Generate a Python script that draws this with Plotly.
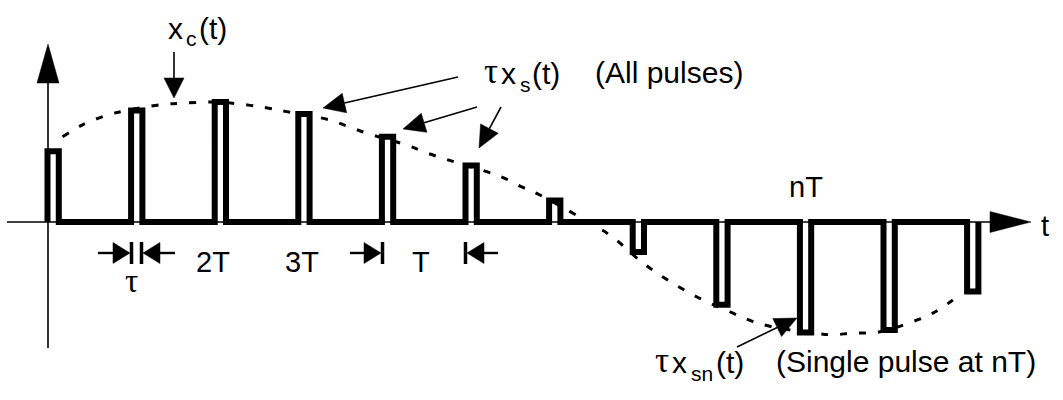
import math
import plotly.graph_objects as go

# ---------------- data ----------------
T = 1.0                     # sampling period
tau = 0.135                 # pulse width (in units of T)
pulse_n = [0, 1, 2, 3, 4, 5, 6, 7, 8, 9, 10, 11]
pulse_heights = [0.59, 0.93, 1.00, 0.90, 0.71, 0.47, 0.18, -0.25, -0.69, -0.92, -0.90, -0.58]

# continuous signal x_c(t)
curve_t = [0.18, 0.42, 0.71, 0.95, 1.38, 1.62, 2.0, 2.39, 2.63, 2.86, 3.38, 3.58, 3.82, 4.30,
           4.54, 4.78, 5.21, 5.45, 5.68, 5.89, 6.37, 6.57, 6.76, 7.12, 7.41, 7.77, 8.20,
           8.44, 8.68, 9.16, 9.40, 9.63, 9.92, 10.35, 10.59, 10.83]
curve_y = [0.71, 0.81, 0.89, 0.93, 0.98, 0.99, 1.0, 0.975, 0.95, 0.92, 0.85, 0.80, 0.74, 0.64,
           0.575, 0.52, 0.43, 0.37, 0.29, 0.225, 0.04, -0.04, -0.125, -0.34, -0.48, -0.625, -0.76,
           -0.83, -0.875, -0.925, -0.94, -0.925, -0.92, -0.83, -0.76, -0.65]

tick_labels = ["2T", "3T", "T", "nT"]

# ---------------- layout geometry (pixels of a 1063x400 canvas) ----------------
W, H = 1063, 400
X0, PXT = 47.5, 83.6        # pixel of t=0, pixels per T
Y0, PXA = 222.0, 120.0      # pixel of baseline, pixels per unit amplitude

x_range = [(0 - X0) / PXT, (W - X0) / PXT]
y_range = [(Y0 - H) / PXA, Y0 / PXA]

def fx(x):
    return x / W

def fy(y):
    return 1 - y / H

INK = "#000000"
FONT = "Liberation Sans, Arial, sans-serif"
SERIF = "Liberation Serif, serif"

# ---------------- pulse train path ----------------
px, py = [], []
for n, h in zip(pulse_n, pulse_heights):
    t = n * T
    px += [t, t, t + tau, t + tau]
    py += [0, h, h, 0]

fig = go.Figure()

fig.add_trace(go.Scatter(
    x=curve_t, y=curve_y, mode="lines",
    line=dict(color=INK, width=3, dash="7px,12px", shape="spline", smoothing=1.0),
    hoverinfo="skip", showlegend=False,
))

fig.add_trace(go.Scatter(
    x=px, y=py, mode="lines",
    line=dict(color=INK, width=6),
    hoverinfo="skip", showlegend=False,
))

shapes = []

def line(x1, y1, x2, y2, w=1.6):
    shapes.append(dict(type="line", xref="paper", yref="paper",
                       x0=fx(x1), y0=fy(y1), x1=fx(x2), y1=fy(y2),
                       line=dict(color=INK, width=w), layer="below"))

def tri(pts):
    d = "M " + " L ".join(f"{fx(a):.5f},{fy(b):.5f}" for a, b in pts) + " Z"
    shapes.append(dict(type="path", xref="paper", yref="paper", path=d,
                       fillcolor=INK, line=dict(color=INK, width=0.5)))

def arrow(tail, tip, hl=20, hw=20, w=1.6):
    dx, dy = tip[0] - tail[0], tip[1] - tail[1]
    L = math.hypot(dx, dy)
    ux, uy = dx / L, dy / L
    bx, by = tip[0] - ux * hl, tip[1] - uy * hl
    nx, ny = -uy, ux
    line(tail[0], tail[1], bx, by, w)
    tri([tip, (bx + nx * hw / 2, by + ny * hw / 2), (bx - nx * hw / 2, by - ny * hw / 2)])

# axes
line(7, Y0, 995, Y0, 1.6)
tri([(1031, Y0), (990, Y0 - 10.5), (990, Y0 + 10.5)])
line(48, 348, 48, 80, 1.6)
tri([(48, 44), (37, 83), (59, 83)])

# labelling arrows
arrow((174, 52), (174, 98), hl=20, hw=20)
arrow((458, 77), (323, 108), hl=22, hw=20)
arrow((477, 107), (403, 129), hl=22, hw=20)
arrow((501, 107), (479, 148), hl=22, hw=20)
arrow((737, 347), (797, 318), hl=22, hw=20)

# dimension markers (tau and T)
def dim_right(x_bar, tail_x, y=253):
    line(tail_x, y, x_bar - 15, y, 2.4)
    tri([(x_bar, y), (x_bar - 17, y - 10.5), (x_bar - 17, y + 10.5)])
    line(x_bar + 1.5, y - 11, x_bar + 1.5, y + 11, 3.5)

def dim_left(x_bar, tail_x, y=253):
    line(x_bar + 15, y, tail_x, y, 2.4)
    tri([(x_bar, y), (x_bar + 17, y - 10.5), (x_bar + 17, y + 10.5)])
    line(x_bar - 1.5, y - 11, x_bar - 1.5, y + 11, 3.5)

dim_right(130, 98)
dim_left(143, 175)
dim_right(381, 350)
dim_left(467, 498)

annotations = []

def text(s, x, baseline, anchor="center", size=30, family=FONT):
    # place a single-line text by its baseline (pixels from top)
    y = baseline - 0.3465 * size
    if anchor == "left":
        x -= 2
    annotations.append(dict(text=s, x=fx(x), y=fy(y), xref="paper", yref="paper",
                            xanchor=anchor, yanchor="middle", showarrow=False,
                            font=dict(family=family, size=size, color=INK)))

SUB = 21
TAUSZ = 35

# x_c(t)
text("x", 168, 39, "left")
text("c", 186, 46, "left", size=SUB)
text("(t)", 199, 39, "left")

# tau x_s(t)
text("τ", 484, 84, "left", size=TAUSZ, family=SERIF)
text("x", 501, 84, "left")
text("s", 520, 92, "left", size=SUB)
text("(t)", 532, 84, "left")
text("(All pulses)", 595, 83, "left")

# tau x_sn(t)
text("τ", 655, 373, "left", size=TAUSZ, family=SERIF)
text("x", 672, 373, "left")
text("sn", 691, 381, "left", size=SUB)
text("(t)", 716, 373, "left")
text("(Single pulse at nT)", 776, 372, "left")

# time labels
text(tick_labels[0], 213, 272, size=29)
text(tick_labels[1], 302, 272, size=29)
text(tick_labels[2], 421, 272, size=29)
text(tick_labels[3], 806, 197, size=29)
text("τ", 131, 292, size=33, family=SERIF)
text("t", 1045, 236, size=29)

fig.update_layout(
    width=W, height=H,
    margin=dict(l=0, r=0, t=0, b=0),
    paper_bgcolor="white", plot_bgcolor="white",
    xaxis=dict(range=x_range, visible=False, fixedrange=True),
    yaxis=dict(range=y_range, visible=False, fixedrange=True),
    shapes=shapes, annotations=annotations,
    showlegend=False,
)

fig.write_html("out.html", config={"displayModeBar": False},
               post_script="document.body.style.margin='0';document.body.style.overflow='hidden';")
